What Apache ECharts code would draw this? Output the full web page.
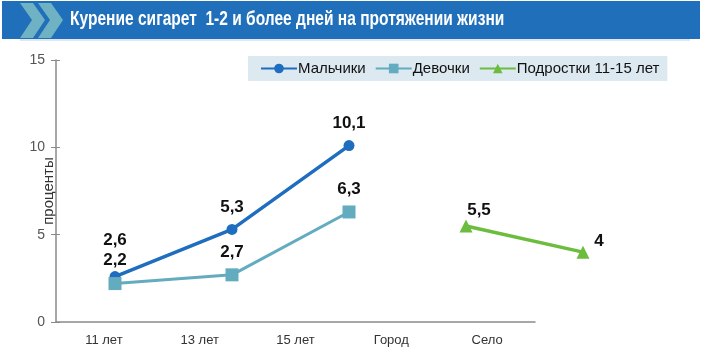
<!DOCTYPE html>
<html><head><meta charset="utf-8">
<script src="https://cdn.jsdelivr.net/npm/echarts@6/dist/echarts.min.js"></script>
<style>html,body{margin:0;padding:0;background:#fff}#c{width:705px;height:355px}</style>
</head><body><div id="c"></div>
<script>
var titleText = 'Курение сигарет  1-2 и более дней на протяжении жизни';
var categories = ['11 лет', '13 лет', '15 лет', 'Город', 'Село'];
var yTicks = [0, 5, 10, 15];
var boysName = 'Мальчики';
var girlsName = 'Девочки';
var teenName = 'Подростки 11-15 лет';
var boys = [2.6, 5.3, 10.1, null, null];
var girls = [2.2, 2.7, 6.3, null, null];
var teens = [null, null, null, 5.5, 4];

var fmt = function (p) { return String(p.value).replace('.', ','); };
var lblFont = { fontFamily: 'Liberation Sans, Arial, sans-serif', fontWeight: 'bold', fontSize: 17, color: '#111' };

function mk(arr, labelCfg) {
  return arr.map(function (v, i) {
    if (v === null) return null;
    var o = { value: v };
    if (labelCfg[i]) o.label = labelCfg[i];
    return o;
  });
}

var chart = echarts.init(document.getElementById('c'));
chart.setOption({
  animation: false,
  graphic: [
    { type: 'rect', shape: { x: 2, y: 1, width: 698, height: 38 }, style: { fill: '#1f6fba' } },
    { type: 'rect', shape: { x: 20, y: 39, width: 670, height: 2 }, style: { fill: '#dfe8f0' } },
    { type: 'polygon', shape: { points: [[20, 3], [33, 3], [45, 20], [33, 38], [20, 38], [32, 20]] }, style: { fill: '#6fb2c3' } },
    { type: 'polygon', shape: { points: [[38, 3], [51, 3], [63, 20], [51, 38], [38, 38], [50, 20]] }, style: { fill: '#6fb2c3' } },
    { type: 'text', x: 70, y: 9, scaleX: 0.74, style: { text: titleText, fill: '#fff', font: 'bold 21px "Liberation Sans", Arial, sans-serif' } }
  ],
  legend: {
    left: 248, top: 56, width: 430,
    backgroundColor: '#dde9f0',
    padding: [5, 8, 5, 12],
    itemWidth: 36, itemHeight: 12, itemGap: 9,
    textStyle: { fontFamily: 'Liberation Sans, Arial, sans-serif', fontSize: 15, color: '#111', padding: [0, 0, 0, -4] },
    data: [boysName, girlsName, teenName]
  },
  grid: [
    { left: 56, right: 170, top: 60, bottom: 33 },
    { left: 56.5, width: 585, top: 60, bottom: 33 }
  ],
  xAxis: [
    { type: 'category', gridIndex: 0, data: categories, boundaryGap: true,
      axisLine: { lineStyle: { color: '#8a8a8a', width: 1.5 } },
      axisTick: { length: 5, lineStyle: { color: '#8a8a8a' } },
      axisLabel: { margin: 12, fontFamily: 'Liberation Sans, Arial, sans-serif', fontSize: 13, color: '#333' } },
    { type: 'category', gridIndex: 0, data: categories, boundaryGap: true, position: 'bottom',
      axisLine: { show: false }, axisTick: { inside: true, length: 5, lineStyle: { color: '#8a8a8a' } },
      axisLabel: { show: false } },
    { type: 'category', gridIndex: 1, data: categories, boundaryGap: true, show: false }
  ],
  yAxis: [
    { type: 'value', gridIndex: 0, min: 0, max: 15, interval: 5,
      name: 'проценты', nameLocation: 'middle', nameRotate: 90, nameGap: 0, nameMoveOverlap: false,
      nameTextStyle: { fontFamily: 'Liberation Sans, Arial, sans-serif', fontSize: 15, color: '#333' },
      axisLine: { show: true, lineStyle: { color: '#8a8a8a', width: 1.5 } },
      axisTick: { show: true, length: 5, lineStyle: { color: '#8a8a8a' } },
      splitLine: { show: false },
      axisLabel: { margin: 11, fontFamily: 'Liberation Sans, Arial, sans-serif', fontSize: 14, color: '#555' } },
    { type: 'value', gridIndex: 0, min: 0, max: 15, interval: 5, position: 'left',
      axisLine: { show: false }, axisTick: { show: true, inside: true, length: 4, lineStyle: { color: '#8a8a8a' } },
      splitLine: { show: false }, axisLabel: { show: false } },
    { type: 'value', gridIndex: 1, min: 0, max: 15, show: false }
  ],
  series: [
    { name: boysName, type: 'line', xAxisIndex: 2, yAxisIndex: 2,
      data: mk(boys, { 0: { distance: 22 } }),
      symbol: 'circle', symbolSize: 11, connectNulls: false,
      itemStyle: { color: '#1f6dbf' }, lineStyle: { width: 3.5, color: '#1f6dbf' },
      label: Object.assign({ show: true, position: 'top', distance: 8, formatter: fmt }, lblFont) },
    { name: girlsName, type: 'line', xAxisIndex: 2, yAxisIndex: 2,
      data: mk(girls, {}),
      symbol: 'rect', symbolSize: 13,
      itemStyle: { color: '#63acc0' }, lineStyle: { width: 3, color: '#63acc0' },
      label: Object.assign({ show: true, position: 'top', distance: 8, formatter: fmt }, lblFont) },
    { name: teenName, type: 'line', xAxisIndex: 2, yAxisIndex: 2,
      data: mk(teens, { 3: { offset: [13, 4] }, 4: { offset: [16, 9] } }),
      symbol: 'triangle', symbolSize: 13,
      itemStyle: { color: '#6cbd3e' }, lineStyle: { width: 3.5, color: '#6cbd3e' },
      label: Object.assign({ show: true, position: 'top', distance: 5, formatter: fmt }, lblFont) }
  ]
});
</script></body></html>
